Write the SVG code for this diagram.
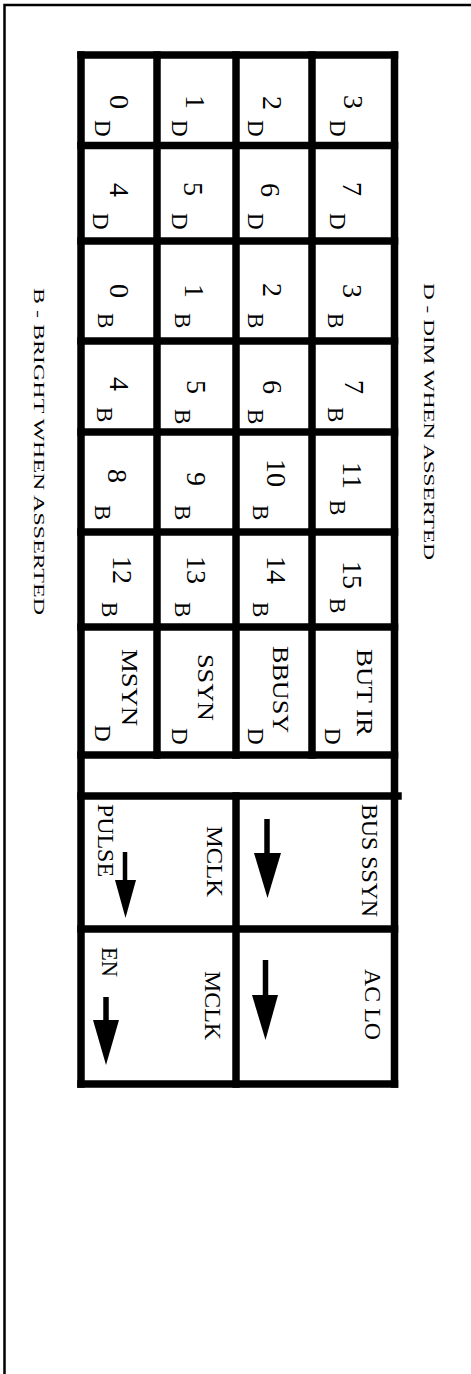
<svg xmlns="http://www.w3.org/2000/svg" width="471" height="1374" viewBox="0 0 471 1374">
<style>
.t{font-family:"Liberation Serif","Times New Roman",serif;fill:#000}
.dg{font-size:28px}
.sb{font-size:23px}
.lb{font-size:24px}
.sd{font-size:15px}
.g{stroke:#000;stroke-width:7.5;fill:none;stroke-linecap:square}
.fr{stroke:#000;stroke-width:2.5;fill:none}
.ar{stroke:#000;stroke-width:4.5}
</style>
<rect width="471" height="1374" fill="#fff"/>
<g id="frame"><polyline class="fr" points="4.5,1374 4.5,5 471,5"/></g>
<g id="grid">
<line class="g" x1="81" y1="55" x2="81" y2="1084"/>
<line class="g" x1="394.5" y1="55" x2="394.5" y2="1084"/>
<line class="g" x1="157" y1="55" x2="157" y2="755"/>
<line class="g" x1="236" y1="55" x2="236" y2="755"/>
<line class="g" x1="312" y1="55" x2="312" y2="755"/>
<line class="g" x1="236" y1="796" x2="236" y2="1084"/>
<line class="g" x1="81" y1="55" x2="394.5" y2="55"/>
<line class="g" x1="81" y1="145.5" x2="394.5" y2="145.5"/>
<line class="g" x1="81" y1="241" x2="394.5" y2="241"/>
<line class="g" x1="81" y1="341" x2="394.5" y2="341"/>
<line class="g" x1="81" y1="432" x2="394.5" y2="432"/>
<line class="g" x1="81" y1="532" x2="394.5" y2="532"/>
<line class="g" x1="81" y1="627" x2="394.5" y2="627"/>
<line class="g" x1="81" y1="755" x2="394.5" y2="755"/>
<line class="g" x1="81" y1="796" x2="398" y2="796"/>
<line class="g" x1="81" y1="929" x2="394.5" y2="929"/>
<line class="g" x1="81" y1="1084" x2="394.5" y2="1084"/>
</g>
<g id="legend-dim"><text class="t sd" x="424" y="283" transform="rotate(90 424 283)" textLength="277" lengthAdjust="spacingAndGlyphs">D - DIM WHEN ASSERTED</text></g>
<g id="legend-bright"><text class="t sd" x="34" y="288" transform="rotate(90 34 288)" textLength="327" lengthAdjust="spacingAndGlyphs">B - BRIGHT WHEN ASSERTED</text></g>
<!-- row 0 -->
<g id="cell-0D"><text class="t dg" x="110" y="95" transform="rotate(90 110 95)">0</text><text class="t sb" x="95" y="120" transform="rotate(90 95 120)">D</text></g>
<g id="cell-1D"><text class="t dg" x="186" y="95" transform="rotate(90 186 95)">1</text><text class="t sb" x="172" y="120" transform="rotate(90 172 120)">D</text></g>
<g id="cell-2D"><text class="t dg" x="263" y="96" transform="rotate(90 263 96)">2</text><text class="t sb" x="248" y="120" transform="rotate(90 248 120)">D</text></g>
<g id="cell-3D"><text class="t dg" x="344" y="95" transform="rotate(90 344 95)">3</text><text class="t sb" x="330" y="120" transform="rotate(90 330 120)">D</text></g>
<!-- row 1 -->
<g id="cell-4D"><text class="t dg" x="110" y="183" transform="rotate(90 110 183)">4</text><text class="t sb" x="93" y="213" transform="rotate(90 93 213)">D</text></g>
<g id="cell-5D"><text class="t dg" x="184" y="182" transform="rotate(90 184 182)">5</text><text class="t sb" x="172" y="213" transform="rotate(90 172 213)">D</text></g>
<g id="cell-6D"><text class="t dg" x="261" y="183" transform="rotate(90 261 183)">6</text><text class="t sb" x="248" y="213" transform="rotate(90 248 213)">D</text></g>
<g id="cell-7D"><text class="t dg" x="343" y="182" transform="rotate(90 343 182)">7</text><text class="t sb" x="330" y="213" transform="rotate(90 330 213)">D</text></g>
<!-- row 2 -->
<g id="cell-0B"><text class="t dg" x="110" y="284" transform="rotate(90 110 284)">0</text><text class="t sb" x="98" y="313" transform="rotate(90 98 313)">B</text></g>
<g id="cell-1B"><text class="t dg" x="185" y="284" transform="rotate(90 185 284)">1</text><text class="t sb" x="175" y="313" transform="rotate(90 175 313)">B</text></g>
<g id="cell-2B"><text class="t dg" x="263" y="283" transform="rotate(90 263 283)">2</text><text class="t sb" x="248" y="313" transform="rotate(90 248 313)">B</text></g>
<g id="cell-3B"><text class="t dg" x="343" y="284" transform="rotate(90 343 284)">3</text><text class="t sb" x="328" y="313" transform="rotate(90 328 313)">B</text></g>
<!-- row 3 -->
<g id="cell-4B"><text class="t dg" x="110" y="377" transform="rotate(90 110 377)">4</text><text class="t sb" x="97" y="407" transform="rotate(90 97 407)">B</text></g>
<g id="cell-5B"><text class="t dg" x="187" y="380" transform="rotate(90 187 380)">5</text><text class="t sb" x="175" y="409" transform="rotate(90 175 409)">B</text></g>
<g id="cell-6B"><text class="t dg" x="263" y="380" transform="rotate(90 263 380)">6</text><text class="t sb" x="248" y="409" transform="rotate(90 248 409)">B</text></g>
<g id="cell-7B"><text class="t dg" x="345" y="380" transform="rotate(90 345 380)">7</text><text class="t sb" x="328" y="407" transform="rotate(90 328 407)">B</text></g>
<!-- row 4 -->
<g id="cell-8B"><text class="t dg" x="108" y="469" transform="rotate(90 108 469)">8</text><text class="t sb" x="95" y="505" transform="rotate(90 95 505)">B</text></g>
<g id="cell-9B"><text class="t dg" x="187" y="472" transform="rotate(90 187 472)">9</text><text class="t sb" x="175" y="505" transform="rotate(90 175 505)">B</text></g>
<g id="cell-10B"><text class="t dg" x="267" y="459" transform="rotate(90 267 459)">10</text><text class="t sb" x="253" y="505" transform="rotate(90 253 505)">B</text></g>
<g id="cell-11B"><text class="t dg" x="343" y="462" transform="rotate(90 343 462)">11</text><text class="t sb" x="330" y="500" transform="rotate(90 330 500)">B</text></g>
<!-- row 5 -->
<g id="cell-12B"><text class="t dg" x="113" y="556" transform="rotate(90 113 556)">12</text><text class="t sb" x="102" y="602" transform="rotate(90 102 602)">B</text></g>
<g id="cell-13B"><text class="t dg" x="187" y="556" transform="rotate(90 187 556)">13</text><text class="t sb" x="175" y="602" transform="rotate(90 175 602)">B</text></g>
<g id="cell-14B"><text class="t dg" x="267" y="556" transform="rotate(90 267 556)">14</text><text class="t sb" x="253" y="602" transform="rotate(90 253 602)">B</text></g>
<g id="cell-15B"><text class="t dg" x="343" y="561" transform="rotate(90 343 561)">15</text><text class="t sb" x="330" y="598" transform="rotate(90 330 598)">B</text></g>
<!-- row 6 -->
<g id="cell-msyn"><text class="t lb" x="122" y="649" transform="rotate(90 122 649)" textLength="77" lengthAdjust="spacingAndGlyphs">MSYN</text><text class="t sb" x="95" y="725" transform="rotate(90 95 725)">D</text></g>
<g id="cell-ssyn"><text class="t lb" x="198" y="654" transform="rotate(90 198 654)" textLength="67" lengthAdjust="spacingAndGlyphs">SSYN</text><text class="t sb" x="172" y="728" transform="rotate(90 172 728)">D</text></g>
<g id="cell-bbusy"><text class="t lb" x="273" y="646" transform="rotate(90 273 646)" textLength="87" lengthAdjust="spacingAndGlyphs">BBUSY</text><text class="t sb" x="248" y="728" transform="rotate(90 248 728)">D</text></g>
<g id="cell-butir"><text class="t lb" x="357" y="649" transform="rotate(90 357 649)" textLength="87" lengthAdjust="spacingAndGlyphs">BUT IR</text><text class="t sb" x="325" y="728" transform="rotate(90 325 728)">D</text></g>
<!-- bottom section -->
<g id="cell-mclk-pulse">
<text class="t lb" x="98" y="804" transform="rotate(90 98 804)" textLength="73" lengthAdjust="spacingAndGlyphs">PULSE</text>
<text class="t lb" x="207" y="826" transform="rotate(90 207 826)" textLength="71" lengthAdjust="spacingAndGlyphs">MCLK</text>
<line class="ar" x1="125" y1="852" x2="125" y2="884"/>
<polygon points="115,880 136,880 125.5,918"/>
</g>
<g id="cell-bus-ssyn">
<text class="t lb" x="362" y="804" transform="rotate(90 362 804)" textLength="113" lengthAdjust="spacingAndGlyphs">BUS SSYN</text>
<line class="ar" x1="267" y1="819" x2="267" y2="856" style="stroke-width:5.5"/>
<polygon points="254,853 281,853 267.5,898"/>
</g>
<g id="cell-mclk-en">
<text class="t lb" x="102" y="947" transform="rotate(90 102 947)" textLength="30" lengthAdjust="spacingAndGlyphs">EN</text>
<text class="t lb" x="205" y="971" transform="rotate(90 205 971)" textLength="69" lengthAdjust="spacingAndGlyphs">MCLK</text>
<line class="ar" x1="106" y1="997" x2="106" y2="1023" style="stroke-width:5.5"/>
<polygon points="93,1020 119,1020 106,1065"/>
</g>
<g id="cell-aclo">
<text class="t lb" x="365" y="969" transform="rotate(90 365 969)" textLength="71" lengthAdjust="spacingAndGlyphs">AC LO</text>
<line class="ar" x1="265.5" y1="960" x2="265.5" y2="998" style="stroke-width:5.5"/>
<polygon points="252,995 278,995 265.5,1040"/>
</g>
</svg>
